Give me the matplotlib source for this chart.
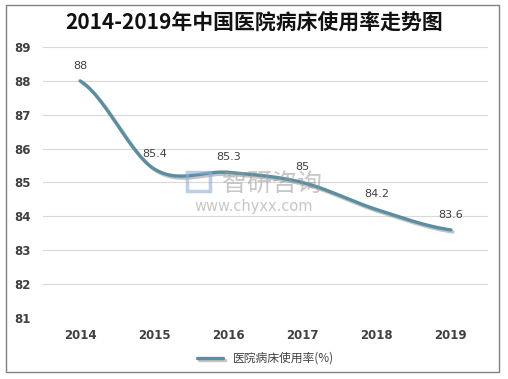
import numpy as np
import matplotlib.pyplot as plt
import matplotlib.patheffects as pe
from matplotlib.patches import Rectangle

plt.rcParams['font.family'] = ['Noto Sans CJK SC', 'DejaVu Sans']

years = ['2014', '2015', '2016', '2017', '2018', '2019']
rate = [88, 85.4, 85.3, 85, 84.2, 83.6]
rate_labels = ['88', '85.4', '85.3', '85', '84.2', '83.6']

color = '#5a8ea0'
txt = '#404040'

# smooth curve like Excel (Catmull-Rom through the points)
x = np.arange(len(rate), dtype=float)
y = np.array(rate, dtype=float)
px = np.concatenate([[2*x[0]-x[1]], x, [2*x[-1]-x[-2]]])
py = np.concatenate([[y[0]], y, [y[-1]]])
sx, sy = [], []
for i in range(1, len(px)-2):
    t = np.linspace(0, 1, 30)
    for arr, out in ((px, sx), (py, sy)):
        p0, p1, p2, p3 = arr[i-1], arr[i], arr[i+1], arr[i+2]
        out.extend(0.5*((2*p1) + (-p0+p2)*t + (2*p0-5*p1+4*p2-p3)*t**2 + (-p0+3*p1-3*p2+p3)*t**3))

fig = plt.figure(figsize=(5.08, 3.79), dpi=100)
ax = fig.add_axes([0.0846, 0.161, 0.876, 0.715])

ax.plot(sx, sy, color=color, lw=2.4, solid_capstyle='round', label='医院病床使用率(%)',
        path_effects=[pe.SimpleLineShadow(offset=(1.5, -1.5), shadow_color='#888888', alpha=0.5), pe.Normal()])

for i, v in enumerate(rate):
    ax.text(i, v + 0.3, rate_labels[i], ha='center', va='bottom', fontsize=8, color=txt, family=['DejaVu Sans'])

# watermark
fig.text(0.535, 0.515, '智研咨询', fontsize=18, color='#9a9a9a', alpha=0.55, ha='center', va='center')
fig.text(0.50, 0.455, 'www.chyxx.com', fontsize=10.5, color='#9a9a9a', alpha=0.55, ha='center', va='center',
         family=['DejaVu Sans'])
fig.patches.append(Rectangle((0.368, 0.495), 0.045, 0.05, transform=fig.transFigure,
                             fill=False, ec='#8fb0d8', lw=2.5, alpha=0.6))

ax.set_xlim(-0.5, 5.5)
ax.set_ylim(81, 89)
ax.set_yticks(range(81, 90))
ax.set_xticks(x)
ax.set_xticklabels(years)
ax.grid(axis='y', color='#d9d9d9', lw=0.8)
ax.set_axisbelow(True)
for s in ax.spines.values():
    s.set_visible(False)
ax.tick_params(length=0, labelsize=8.5, labelcolor=txt, pad=8)
for lab in ax.get_xticklabels() + ax.get_yticklabels():
    lab.set_fontweight('bold')
    lab.set_family(['DejaVu Sans'])
ax.tick_params(axis='y', pad=9)

fig.suptitle('2014-2019年中国医院病床使用率走势图', x=0.5, y=0.968, fontsize=15, fontweight='bold', color='#111111')

leg = ax.legend(loc='upper center', bbox_to_anchor=(0.5, -0.085), frameon=False, fontsize=8.5,
                handlelength=2.2, labelcolor=txt)

fig.patches.append(Rectangle((0.011, 0.018), 0.972, 0.97, transform=fig.transFigure,
                             fill=False, ec='#808080', lw=1))

fig.savefig('out.png', dpi=100)
